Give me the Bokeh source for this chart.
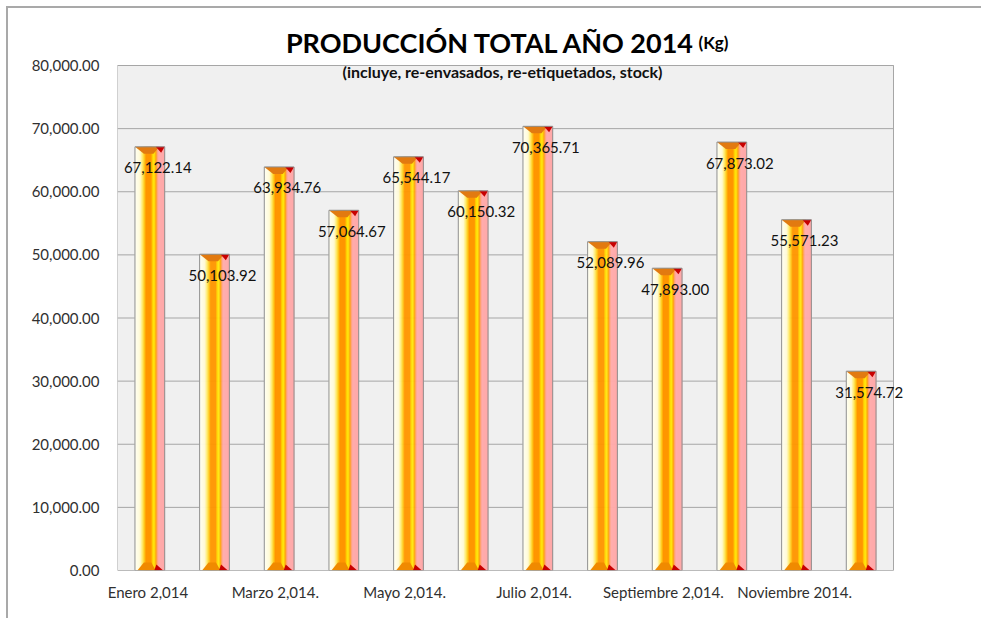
from bokeh.plotting import figure
from bokeh.models import ColumnDataSource, Range1d, FixedTicker, NumeralTickFormatter, LabelSet, Label
from bokeh.core.properties import value
from bokeh.embed import file_html
from bokeh.resources import INLINE

# ---------------- data ----------------
months = ["Enero  2,014", "Febrero  2,014.", "Marzo   2,014.", "Abril  2,014.",
          "Mayo   2,014.", "Junio  2,014.", "Julio   2,014.", "Agosto  2,014.",
          "Septiembre   2,014.", "Octubre  2,014.", "Noviembre  2014.", "Diciembre  2014."]
values = [67122.14, 50103.92, 63934.76, 57064.67, 65544.17, 60150.32,
          70365.71, 52089.96, 47893.00, 67873.02, 55571.23, 31574.72]
y_ticks = [0, 10000, 20000, 30000, 40000, 50000, 60000, 70000, 80000]
title_text = "PRODUCCIÓN TOTAL AÑO 2014"
title_unit = "(Kg)"
subtitle_text = "(incluye, re-envasados, re-etiquetados, stock)"

# ---------------- layout ----------------
OX, OY = 8, 8                     # canvas origin on the page
W, H = 975, 612
FL, FT, FR, FB = 117, 15, 935, 570  # frame edges on the page
PL, PT, PR = 117, 65, 893          # plot-area (value region) edges on the page
n = len(values)
ymax = 80000
ux = n / (PR - PL)                 # data units per px (x)
uy = ymax / (FB - PT)              # data units per px (y)

FONT = "Lato"

p = figure(width=W, height=H, output_backend="svg", toolbar_location=None,
           x_range=Range1d(0, (FR - PL) * ux), y_range=Range1d(0, (FB - FT) * uy),
           min_border_left=FL - OX, min_border_top=FT - OY,
           min_border_right=OX + W - FR, min_border_bottom=OY + H - FB)
p.styles = {"border-top": "2px solid #A9A9A9", "border-left": "2px solid #A9A9A9",
            "margin-left": "6px", "margin-top": "6px"}
p.background_fill_color = "white"
p.border_fill_color = "white"
p.outline_line_color = None
p.xgrid.grid_line_color = None
p.ygrid.grid_line_color = None

# plot area background + gridlines
p.quad(left=[0], right=[n], bottom=[0], top=[ymax], fill_color="#F0F0F0", line_color=None)
p.segment(x0=[0] * len(y_ticks), x1=[n] * len(y_ticks), y0=y_ticks, y1=y_ticks,
          line_color="#A6A6A6", line_width=1)

# bars: vertical gradient stripes
bw = 0.46
stops = [(0.00, (255, 255, 246)), (0.18, (255, 250, 215)), (0.26, (255, 236, 110)),
         (0.33, (255, 200, 20)), (0.38, (255, 150, 0)), (0.55, (255, 150, 0)),
         (0.60, (255, 215, 0)), (0.66, (255, 235, 20)), (0.71, (255, 165, 0)),
         (0.76, (255, 160, 120)), (0.80, (255, 172, 172)), (1.00, (255, 168, 168))]

def col_at(f):
    for (f0, c0), (f1, c1) in zip(stops[:-1], stops[1:]):
        if f0 <= f <= f1:
            t = (f - f0) / (f1 - f0) if f1 > f0 else 0
            c = [round(a + (b - a) * t) for a, b in zip(c0, c1)]
            return "#%02x%02x%02x" % tuple(c)
    return "#%02x%02x%02x" % stops[-1][1]

nst = 30
sx, stop_, sw, sc = [], [], [], []
for i, v in enumerate(values):
    c = i + 0.5
    for k in range(nst):
        f = (k + 0.5) / nst
        sx.append(c - bw / 2 + f * bw)
        stop_.append(v)
        sw.append(bw / nst + 0.6 * ux)
        sc.append(col_at(f))
p.vbar(x="x", top="top", width="w", bottom=0, fill_color="c", line_color=None,
       source=ColumnDataSource(dict(x=sx, top=stop_, w=sw, c=sc)))

# caps (top and bottom bevels)
cap_xs, cap_ys, cap_c = [], [], []
for i, v in enumerate(values):
    x0 = i + 0.5 - bw / 2
    x1 = i + 0.5 + bw / 2
    h7 = 7 * uy
    cap_xs.append([x0, x0 + 0.82 * bw, x0 + 0.62 * bw, x0 + 0.30 * bw])
    cap_ys.append([v, v, v - h7, v - h7])
    cap_c.append("#E27A10")
    cap_xs.append([x0 + 0.70 * bw, x1, x1 - 0.12 * bw])
    cap_ys.append([v, v, v - 6 * uy])
    cap_c.append("#C80000")
    cap_xs.append([x0 + 0.08 * bw, x0 + 0.70 * bw, x0 + 0.55 * bw, x0 + 0.30 * bw])
    cap_ys.append([0, 0, 8 * uy, 8 * uy])
    cap_c.append("#F08A00")
    cap_xs.append([x0 + 0.65 * bw, x0 + 0.95 * bw, x0 + 0.72 * bw])
    cap_ys.append([0, 0, 6 * uy])
    cap_c.append("#C80000")
p.patches(xs="xs", ys="ys", fill_color="c", line_color=None,
          source=ColumnDataSource(dict(xs=cap_xs, ys=cap_ys, c=cap_c)))

centers = [i + 0.5 for i in range(n)]
p.vbar(x=centers, top=values, width=bw, bottom=0, fill_color=None,
       line_color="#8E8E8E", line_width=1)

# plot-area border
p.quad(left=[0], right=[n], bottom=[0], top=[ymax], fill_color=None,
       line_color="#A6A6A6", line_width=1)

# data labels
lbl_src = ColumnDataSource(dict(x=centers, y=values, t=[f"{v:,.2f}" for v in values]))
p.add_layout(LabelSet(x="x", y="y", text="t", source=lbl_src, x_offset=8, y_offset=-21,
                      text_align="center", text_baseline="middle",
                      text_font=value(FONT), text_font_size="15px", text_color="#111111"))

# axes
p.xaxis.ticker = FixedTicker(ticks=centers[::2])
p.xaxis.major_label_overrides = {c: m for c, m in zip(centers, months)}
p.yaxis.ticker = FixedTicker(ticks=y_ticks)
p.yaxis.formatter = NumeralTickFormatter(format="0,0.00")
for ax in (p.xaxis, p.yaxis):
    ax.major_tick_line_color = None
    ax.minor_tick_line_color = None
    ax.axis_line_color = None
    ax.major_label_text_font = FONT
    ax.major_label_text_font_size = "15px"
    ax.major_label_text_color = "#303030"
p.yaxis.major_label_standoff = 12
p.xaxis.major_label_standoff = 6

# titles
p.add_layout(Label(x=(695 - PL) * ux, y=(FB - 42) * uy, text=title_text,
                   text_align="right", text_baseline="alphabetic", text_font=FONT,
                   text_font_style="bold", text_font_size="27px", text_color="#000000"))
p.add_layout(Label(x=(698 - PL) * ux, y=(FB - 42) * uy, text=title_unit,
                   text_align="left", text_baseline="alphabetic", text_font=FONT,
                   text_font_style="bold", text_font_size="17px", text_color="#000000"))
p.add_layout(Label(x=(502 - PL) * ux, y=(FB - 71) * uy, text=subtitle_text,
                   text_align="center", text_baseline="middle", text_font=FONT,
                   text_font_style="bold", text_font_size="16px", text_color="#111111"))

open("out.html", "w").write(file_html(p, INLINE))
